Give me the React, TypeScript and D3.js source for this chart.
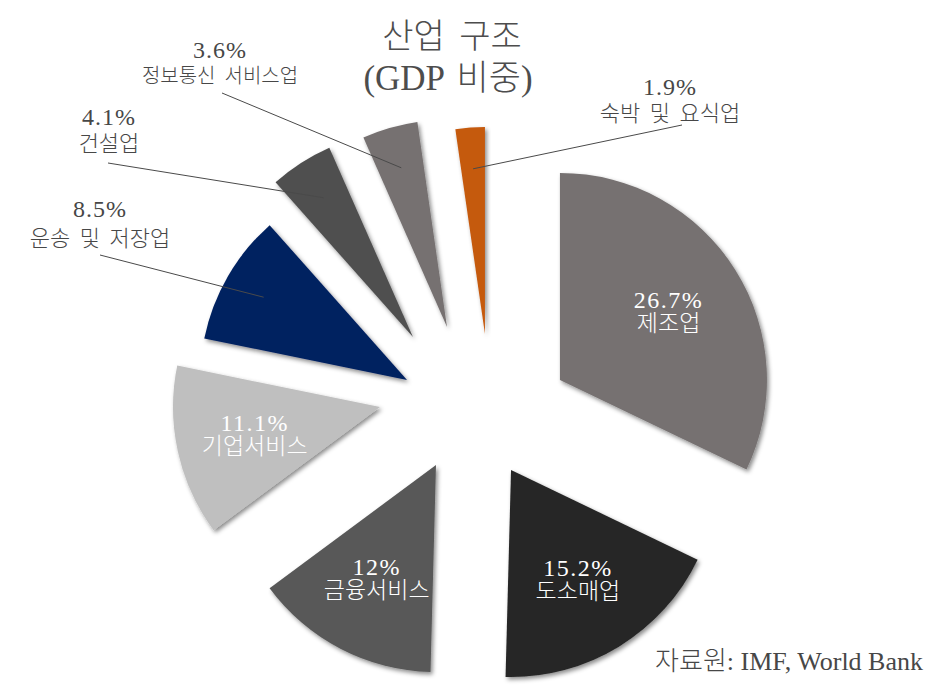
import React from 'react';
import * as d3 from 'd3';

const categories = ['제조업', '도소매업', '금융서비스', '기업서비스', '운송 및 저장업', '건설업', '정보통신 서비스업', '숙박 및 요식업'];
const shares = [26.7, 15.2, 12, 11.1, 8.5, 4.1, 3.6, 1.9];
const valueLabels = ['26.7%', '15.2%', '12%', '11.1%', '8.5%', '4.1%', '3.6%', '1.9%'];
const colors = ['#767171', '#262626', '#595959', '#BFBFBF', '#002060', '#505050', '#767171', '#C55A11'];
// explosion of each slice (distance in px, turn relative to the slice's mid-angle in degrees)
const explodeDist = [88.6, 74.3, 71.6, 95, 72.4, 92, 82.9, 71.7];
const explodeTurn = [15.7, 2.4, 5.5, 11.2, -9.8, -9.7, -3.7, 12.1];
const labelInside = [true, true, true, true, false, false, false, false];
// outside label placement: [text x, pct baseline, name baseline, leader start x, leader start y, name font size]
const outsideLabelLayout: Record<number, number[]> = {
  4: [100, 217, 246, 100, 255, 22],
  5: [109, 125, 151, 108, 163, 22],
  6: [220, 58, 83, 222, 93, 20],
  7: [670, 95, 121, 682, 125, 22],
};
const titleLines = ['산업 구조', '(GDP 비중)'];
const sourceText = '자료원: IMF, World Bank';

const W = 940;
const H = 688;
const CX = 475;
const CY = 405;
const R = 207;
const FONT = "'Liberation Serif', 'Noto Sans CJK KR', serif";

export default function App() {
  const pie = d3.pie<number>().sort(null).value((d) => d).startAngle(0).endAngle(2 * Math.PI);
  const arcs = pie(shares);
  const arc = d3.arc<d3.PieArcDatum<number>>().innerRadius(0).outerRadius(R);
  const labelArc = d3.arc<d3.PieArcDatum<number>>().innerRadius(R * 0.62).outerRadius(R * 0.62);
  const leaderArc = d3.arc<d3.PieArcDatum<number>>().innerRadius(R * 0.8).outerRadius(R * 0.8);

  const offsets = arcs.map((a, i) => {
    const mid = (a.startAngle + a.endAngle) / 2 + (explodeTurn[i] * Math.PI) / 180;
    return [CX + explodeDist[i] * Math.sin(mid), CY - explodeDist[i] * Math.cos(mid)];
  });

  return (
    <svg width={W} height={H} style={{ position: 'absolute', left: 0, top: 0, background: '#fff' }}>
      <defs>
        <filter id="shadow" x="-20%" y="-20%" width="140%" height="140%">
          <feDropShadow dx="2" dy="2.5" stdDeviation="2.2" floodColor="#000" floodOpacity="0.45" />
        </filter>
      </defs>
      <rect width={W} height={H} fill="#fff" />

      {arcs.map((a, i) => (
        <g key={categories[i]} transform={`translate(${offsets[i][0]},${offsets[i][1]})`}>
          <path d={arc(a) || ''} fill={colors[i]} filter="url(#shadow)" />
        </g>
      ))}

      {arcs.map((a, i) => {
        const [ox, oy] = offsets[i];
        if (labelInside[i]) {
          const [lx, ly] = labelArc.centroid(a);
          const x = ox + lx;
          const y = oy + ly;
          return (
            <g key={'lab' + i} fill="#fff" fontFamily={FONT} fontWeight={300} textAnchor="middle">
              <text x={x} y={y - 4} fontSize={24} letterSpacing={1.5}>{valueLabels[i]}</text>
              <text x={x} y={y + 19} fontSize={23}>{categories[i]}</text>
            </g>
          );
        }
        const [tx, y1, y2, sx, sy, fs] = outsideLabelLayout[i];
        const [lx, ly] = leaderArc.centroid(a);
        return (
          <g key={'lab' + i} fontFamily={FONT} fontWeight={300} textAnchor="middle">
            <line x1={sx} y1={sy} x2={ox + lx} y2={oy + ly} stroke="#4a4a4a" strokeWidth={1} />
            <text x={tx} y={y1} fontSize={24} letterSpacing={1} fill="#474747">{valueLabels[i]}</text>
            <text x={tx} y={y2} fontSize={fs} fill="#474747" wordSpacing={4}>{categories[i]}</text>
          </g>
        );
      })}

      <g fontFamily={FONT} fontWeight={300} textAnchor="middle" fill="#4d4d4d">
        <text x={452} y={48} fontSize={34} wordSpacing={6}>{titleLines[0]}</text>
        <text x={448} y={90} fontSize={35} wordSpacing={4}>{titleLines[1]}</text>
      </g>
      <text x={923} y={670} fontFamily={FONT} fontWeight={300} fontSize={26} textAnchor="end" fill="#474747">{sourceText}</text>
    </svg>
  );
}
